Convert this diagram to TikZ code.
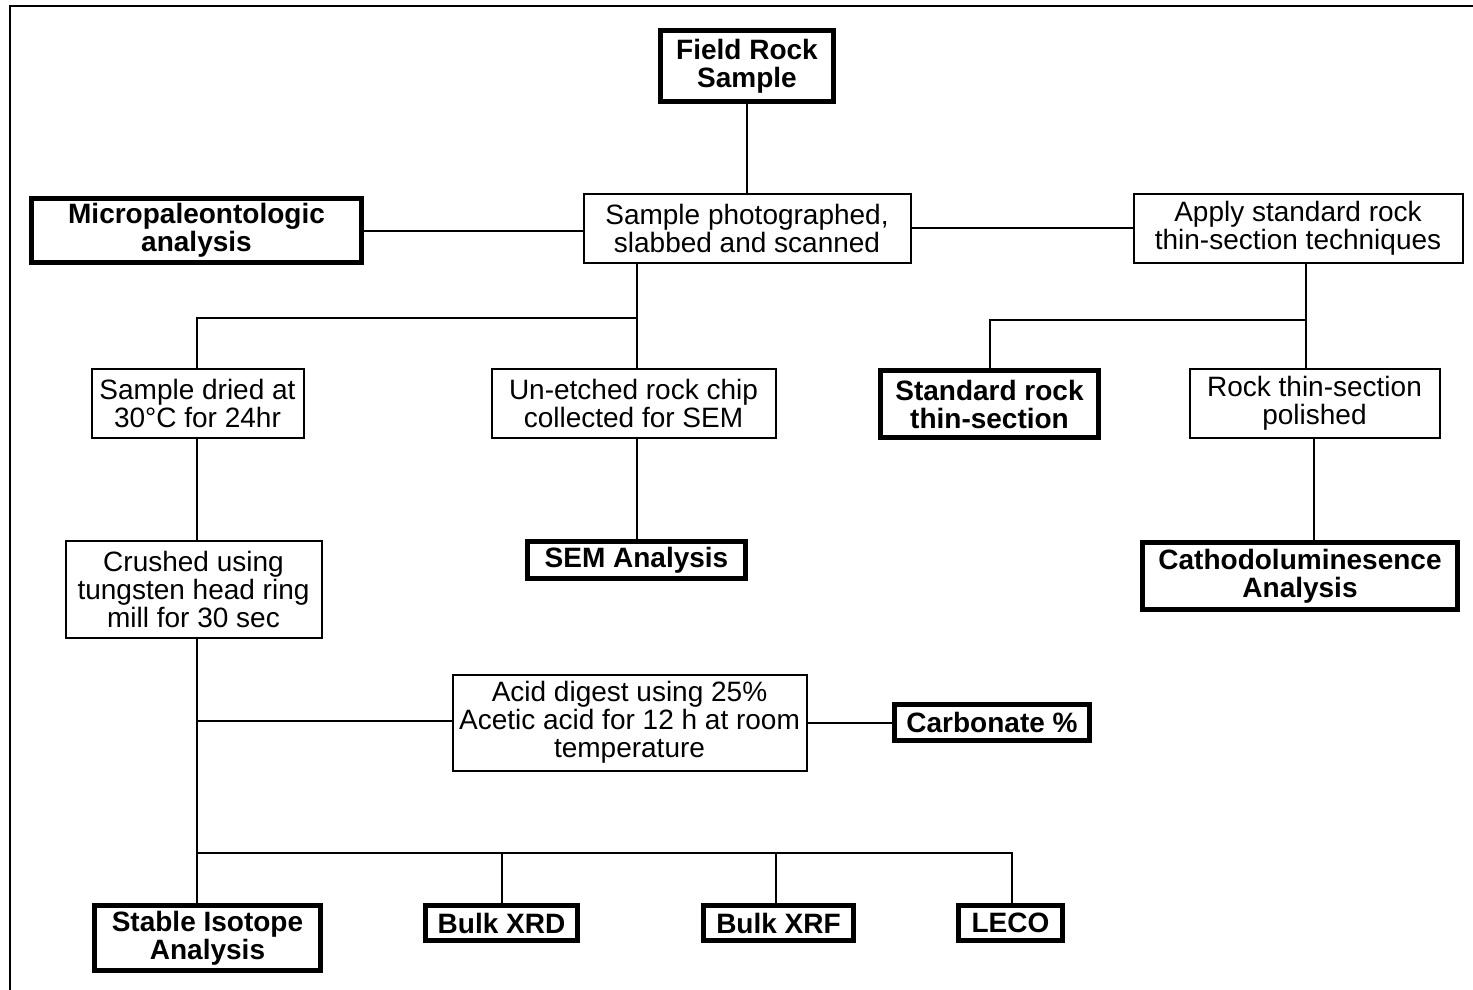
\documentclass[tikz,border=0pt]{standalone}
\usepackage{fontspec}
\setmainfont{Liberation Sans}
\begin{document}
\begin{tikzpicture}[x=0.5pt,y=-0.5pt,
  box/.style={draw,line width=1pt,inner sep=0pt,align=center,
    font=\fontsize{14}{14}\selectfont},
  tbox/.style={draw,line width=2.5pt,inner sep=0pt,align=center,
    font=\fontsize{14}{14}\selectfont\bfseries},
  wire/.style={line width=1pt}]
\useasboundingbox (0,0) rectangle (1473,990);
\draw[line width=1pt] (10,990) -- (10,6) -- (1473,6);
% nodes
\node[tbox,minimum width=86.5pt,minimum height=35.5pt] (field) at (747,66) {Field Rock\\Sample};
\node[box,minimum width=163.5pt,minimum height=34.5pt] (sp) at (747,228) {Sample photographed,\\slabbed and scanned};
\node[tbox,minimum width=165pt,minimum height=32pt] (micro) at (196.5,230.5) {Micropaleontologic\\analysis};
\node[box,minimum width=164.5pt,minimum height=34.5pt] (apply) at (1298,228) {Apply standard rock\\thin-section techniques};
\node[box,minimum width=106pt,minimum height=34.5pt] (dried) at (197.5,403) {Sample dried at\\30°C for 24hr};
\node[box,minimum width=142pt,minimum height=34.5pt] (unetch) at (633.5,403) {Un-etched rock chip\\collected for SEM};
\node[tbox,minimum width=109pt,minimum height=33.5pt] (stdrock) at (989.5,404) {Standard rock\\thin-section};
\node[box,minimum width=125pt,minimum height=34.5pt] (polish) at (1314.5,403) {Rock thin-section\\polished};
\node[box,minimum width=128pt,minimum height=48.5pt] (crush) at (193.5,589) {Crushed using\\tungsten head ring\\mill for 30 sec};
\node[tbox,minimum width=109pt,minimum height=18.5pt] (sem) at (636.5,560) {SEM Analysis};
\node[tbox,minimum width=157.5pt,minimum height=33.5pt] (cath) at (1300,576) {Cathodoluminesence\\Analysis};
\node[box,minimum width=177pt,minimum height=48pt] (acid) at (629.5,722.5) {Acid digest using 25\%\\Acetic acid for 12 h at room\\temperature};
\node[tbox,minimum width=97.5pt,minimum height=18pt] (carb) at (992,722.5) {Carbonate \%};
\node[tbox,minimum width=113pt,minimum height=32.5pt] (stable) at (207.5,938) {Stable Isotope\\Analysis};
\node[tbox,minimum width=76pt,minimum height=17.5pt] (xrd) at (501.5,923) {Bulk XRD};
\node[tbox,minimum width=75pt,minimum height=17.5pt] (xrf) at (778.5,923) {Bulk XRF};
\node[tbox,minimum width=52pt,minimum height=17.5pt] (leco) at (1010.5,923) {LECO};
% junctions
\coordinate (j1) at (637,318);
\coordinate (j2) at (1306,320);
\coordinate (j3) at (197,721);
\coordinate (j4) at (197,853);
\coordinate (j5) at (1012,853);
% connectors
\draw[wire] (field) -- (sp);
\draw[wire] (micro) -- (micro -| sp.west);
\draw[wire] (sp) -- (apply);
\draw[wire] (sp.south -| j1) -- (j1);
\draw[wire] (dried.north -| 197,0) |- (j1) -- (unetch.north -| j1);
\draw[wire] (apply.south -| j2) -- (j2);
\draw[wire] (stdrock.north -| 990,0) |- (j2) -- (polish.north -| j2);
\draw[wire] (dried.south -| 197,0) -- (crush.north -| 197,0);
\draw[wire] (unetch.south -| j1) -- (sem.north -| j1);
\draw[wire] (polish.south -| 1314,0) -- (cath.north -| 1314,0);
\draw[wire] (crush.south -| j4) -- (j4);
\draw[wire] (j3) -- (acid.west |- j3);
\draw[wire] (acid) -- (carb);
\draw[wire] (stable.north -| j4) -- (j4) -- (j5) -- (leco.north -| j5);
\draw[wire] (xrd.north) -- (xrd.north |- j4);
\draw[wire] (xrf.north -| 776,0) -- (j4 -| 776,0);
\end{tikzpicture}
\end{document}
